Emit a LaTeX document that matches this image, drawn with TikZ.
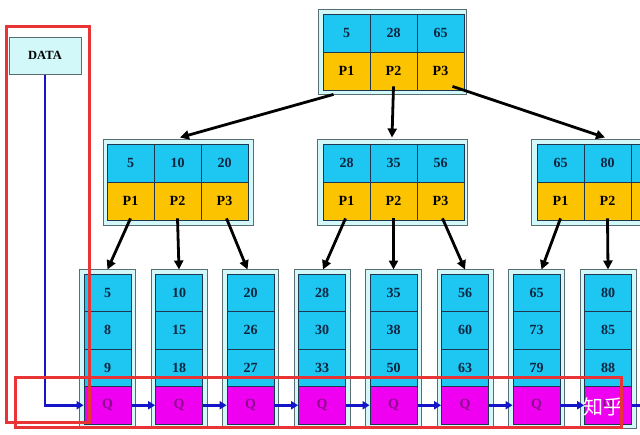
\documentclass[tikz,border=0pt]{standalone}
\usepackage{fontspec}
\setmainfont{Liberation Serif}
\newfontfamily\cjkfont{Noto Sans CJK SC}
\usetikzlibrary{arrows.meta}
\definecolor{framefill}{HTML}{D2F8FA}
\definecolor{framedraw}{HTML}{5A6E72}
\definecolor{keyfill}{HTML}{1EC6F2}
\definecolor{keydraw}{HTML}{1E3650}
\definecolor{keytext}{HTML}{0C2640}
\definecolor{ptrfill}{HTML}{FCC400}
\definecolor{qfill}{HTML}{F000F0}
\definecolor{qtext}{HTML}{8C0A8C}
\definecolor{linkblue}{HTML}{1414C8}
\definecolor{markred}{HTML}{E83434}
\tikzset{
  frame/.style={draw=framedraw, fill=framefill, line width=1pt, inner sep=0pt},
  keycell/.style={draw=keydraw, fill=keyfill, line width=0.8pt, minimum width=47pt, minimum height=38pt, inner sep=0pt, text=keytext, font=\fontsize{14}{14}\selectfont\bfseries},
  leafcell/.style={keycell, minimum height=37.5pt},
  ptrcell/.style={keycell, fill=ptrfill, text=black},
  qcell/.style={keycell, minimum height=37.5pt, fill=qfill, text=qtext},
  treearrow/.style={draw=black, line width=2.8pt, -{Triangle[length=9pt,width=9pt]}},
  bluelink/.style={draw=linkblue, line width=2.8pt, -{Triangle[length=7pt,width=8pt]}},
  redbox/.style={draw=markred, line width=3pt},
}
\begin{document}
\begin{tikzpicture}[x=1pt,y=-1pt]
\useasboundingbox (0,0) rectangle (640,434);
\fill[white] (0,0) rectangle (640,434);

% DATA
\node[frame, minimum width=72pt, minimum height=37pt, font=\fontsize{12.5}{12.5}\selectfont\bfseries, text=black] (data) at (45,55.5) {DATA};

% root
\node[frame, minimum width=148pt, minimum height=85pt] (rootF) at (392,51.5) {};
\foreach \k/\p [count=\i] in {5/P1,28/P2,65/P3}{
  \node[keycell] (rK\i) at ({346.5+47*(\i-1)},33) {\k};
  \node[ptrcell] (rP\i) at ({346.5+47*(\i-1)},71) {\p};
}

% level 2
\foreach \nm/\cx/\fx/\ka/\kb/\kc in {A/130.5/178/5/10/20, B/346.5/392/28/35/56, C/560.5/606/65/80/}{
  \node[frame, minimum width=150pt, minimum height=86pt] (\nm F) at (\fx,182) {};
  \node[keycell] (\nm K1) at (\cx,163) {\ka};
  \node[keycell] (\nm K2) at (\cx+47,163) {\kb};
  \node[keycell] (\nm K3) at (\cx+94,163) {\kc};
  \node[ptrcell] (\nm P1) at (\cx,201) {P1};
  \node[ptrcell] (\nm P2) at (\cx+47,201) {P2};
  \node[ptrcell] (\nm P3) at (\cx+94,201) {P3};
}

% leaves
\foreach \a/\b/\c [count=\i] in {5/8/9,10/15/18,20/26/27,28/30/33,35/38/50,56/60/63,65/73/79,80/85/88}{
  \pgfmathsetmacro{\lx}{107.5+71.5*(\i-1)}
  \node[frame, minimum width=56pt, minimum height=159pt] (L\i F) at (\lx,348.5) {};
  \node[leafcell] (L\i a) at (\lx,292.75) {\a};
  \node[leafcell] (L\i b) at (\lx,330.25) {\b};
  \node[leafcell] (L\i c) at (\lx,367.75) {\c};
  \node[qcell] (L\i q) at (\lx,405.25) {Q};
}

% tree arrows
\draw[treearrow] ([xshift=-13pt]rP1.south) ++(0,4) -- ([xshift=2pt,yshift=1pt]AF.north);
\draw[treearrow] ([yshift=4pt]rP2.south) -- ([yshift=1pt]BF.north);
\draw[treearrow] ([xshift=12pt,yshift=4pt]rP3.south) -- ([xshift=-1pt,yshift=1pt]CF.north);

\draw[treearrow] ([yshift=2pt]AP1.south) -- ([yshift=-1pt]L1F.north);
\draw[treearrow] ([yshift=2pt]AP2.south) -- ([yshift=-1pt]L2F.north);
\draw[treearrow] ([xshift=2pt,yshift=2pt]AP3.south) -- ([xshift=-3pt,yshift=-1pt]L3F.north);
\draw[treearrow] ([xshift=-1pt,yshift=2pt]BP1.south) -- ([xshift=1pt,yshift=-1pt]L4F.north);
\draw[treearrow] ([yshift=2pt]BP2.south) -- ([yshift=-1pt]L5F.north);
\draw[treearrow] ([xshift=2pt,yshift=2pt]BP3.south) -- ([yshift=-1pt]L6F.north);
\draw[treearrow] ([yshift=2pt]CP1.south) -- ([xshift=5pt,yshift=-1pt]L7F.north);
\draw[treearrow] ([yshift=2pt]CP2.south) -- ([yshift=-1pt]L8F.north);

% linked list
\draw[bluelink] (data.south) |- (L1q.west);
\foreach \i [evaluate=\i as \j using int(\i+1)] in {1,...,7}{
  \draw[bluelink] (L\i q.east) -- (L\j q.west);
}
\coordinate (tail) at (646,405.25);
\draw[draw=linkblue, line width=2.8pt] (L8q.east) -- (tail);

% watermark
\node[text=white, font=\cjkfont\fontsize{20}{20}\selectfont, inner sep=0pt] (wm) at (603,407) {知乎};

% red marks
\draw[redbox] (6,26) rectangle (89,422);
\draw[redbox] (15,377) rectangle (621,427);
\end{tikzpicture}
\end{document}
